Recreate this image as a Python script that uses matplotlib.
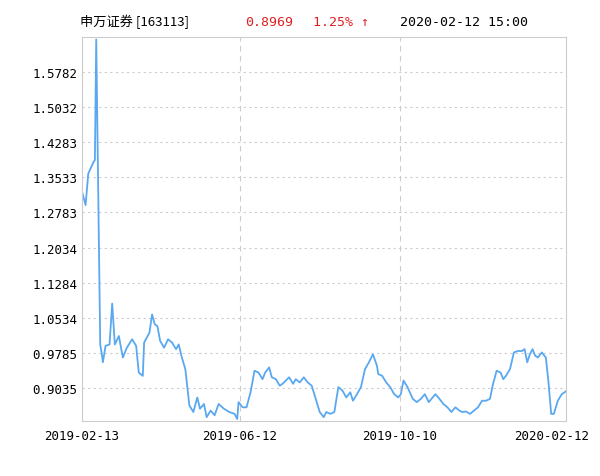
import matplotlib
matplotlib.use("Agg")
import matplotlib.pyplot as plt
import matplotlib.dates as mdates
import numpy as np
import pandas as pd

start = pd.Timestamp("2019-02-13")
day_offsets = [0,3,5,9,10,11,14,15,16,18,21,23,25,28,31,34,38,41,43,46,47,51,53,55,57,59,62,65,68,71,73,75,78,81,84,87,89,92,94,97,100,103,107,111,115,117,118,121,124,127,130,133,136,138,141,143,146,149,151,156,159,161,164,167,170,173,176,179,182,184,187,190,193,196,199,202,204,207,210,213,216,219,222,223,226,229,232,235,238,240,242,245,249,252,255,258,261,263,266,269,272,275,278,281,284,286,289,292,295,298,301,304,307,309,312,315,317,319,322,325,328,331,333,335,337,339,341,343,346,349,351,353,355,358,361,364]
nav = [1.326,1.294,1.361,1.386,1.390,1.647,0.997,0.980,0.959,0.994,0.997,1.084,0.997,1.015,0.969,0.990,1.008,0.994,0.937,0.930,1.001,1.022,1.061,1.040,1.036,1.005,0.990,1.008,1.001,0.987,0.997,0.973,0.944,0.867,0.853,0.884,0.860,0.870,0.842,0.856,0.846,0.870,0.860,0.853,0.849,0.838,0.874,0.863,0.863,0.895,0.941,0.937,0.923,0.937,0.948,0.927,0.923,0.909,0.913,0.927,0.913,0.923,0.916,0.927,0.916,0.909,0.881,0.853,0.842,0.853,0.849,0.853,0.906,0.899,0.884,0.895,0.877,0.891,0.906,0.944,0.959,0.976,0.952,0.934,0.930,0.916,0.906,0.891,0.884,0.891,0.920,0.906,0.881,0.874,0.881,0.891,0.874,0.881,0.891,0.881,0.870,0.863,0.853,0.863,0.856,0.853,0.854,0.849,0.856,0.863,0.877,0.877,0.881,0.909,0.941,0.937,0.923,0.930,0.944,0.980,0.983,0.983,0.987,0.959,0.976,0.987,0.973,0.969,0.980,0.969,0.916,0.849,0.849,0.877,0.891,0.8969]
yticks = [0.9035,0.9785,1.0534,1.1284,1.2034,1.2783,1.3533,1.4283,1.5032,1.5782]
xtick_labels = ["2019-02-13","2019-06-12","2019-10-10","2020-02-12"]

dates = [start + pd.Timedelta(days=d) for d in day_offsets]
xt = [pd.Timestamp(s) for s in xtick_labels]

plt.rcParams['font.family'] = ['Noto Sans CJK SC', 'DejaVu Sans']
fig = plt.figure(figsize=(6, 4.77), dpi=100)
ax = fig.add_axes([0.136, 0.115, 0.807, 0.805])
ax.plot(dates, nav, color="#5aa8f0", lw=1.3)
ax.set_ylim(0.8335, 1.652)
ax.set_xlim(xt[0], xt[-1])
ax.set_yticks(yticks)
ax.set_yticklabels([f"{v:.4f}" for v in yticks], fontfamily="DejaVu Sans Mono", fontsize=9)
ax.set_xticks(xt)
ax.set_xticklabels([])
for i, (d, s) in enumerate(zip(xt, xtick_labels)):
    off = -0.03 if i == 3 else 0.0
    ax.text(mdates.date2num(d) + off * 364, 0.8335 - 0.016, s, ha="center", va="top",
            fontfamily="DejaVu Sans Mono", fontsize=9)
ax.tick_params(length=0, pad=3)
ax.grid(axis="y", color="#cccccc", ls=(0, (2, 3)), lw=0.8)
for d in xt[1:3]:
    ax.axvline(d, color="#cccccc", ls=(0, (5, 4)), lw=0.8)
for sp in ax.spines.values():
    sp.set_color("#cccccc")
fig.text(80/600, 1-22/477, "申万证券 [163113]", fontsize=9.5, va="center")
fig.text(245/600, 1-22/477, "0.8969", fontsize=9.5, va="center", color="#e02020", fontfamily="DejaVu Sans Mono")
fig.text(313/600, 1-22/477, "1.25% ↑", fontsize=9.5, va="center", color="#e02020", fontfamily=["DejaVu Sans Mono", "DejaVu Sans"])
fig.text(400/600, 1-22/477, "2020-02-12 15:00", fontsize=9.5, va="center", fontfamily="DejaVu Sans Mono")
fig.savefig("out.png", dpi=100)
